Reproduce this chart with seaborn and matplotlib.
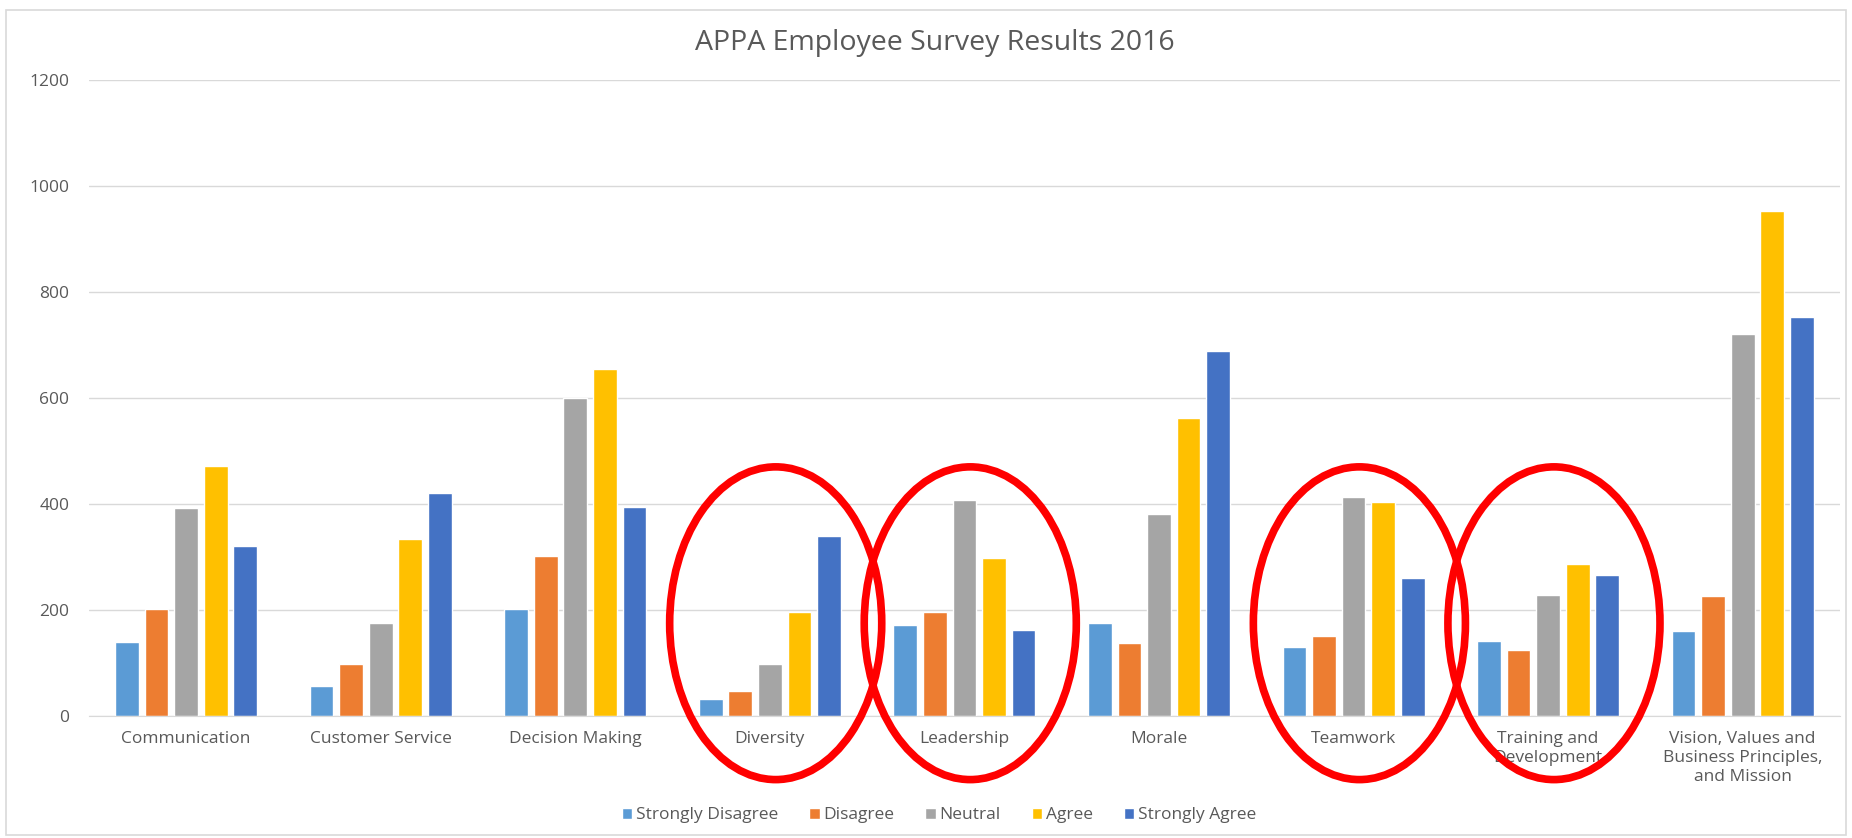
import numpy as np
import pandas as pd
import matplotlib
matplotlib.use("Agg")
import matplotlib.pyplot as plt
from matplotlib.patches import Ellipse, Rectangle
import seaborn as sns

# Survey counts
topics = ["Communication", "Customer Service", "Decision Making", "Diversity",
          "Leadership", "Morale", "Teamwork", "Training and\nDevelopment",
          "Vision, Values and\nBusiness Principles,\nand Mission"]
responses = ["Strongly Disagree", "Disagree", "Neutral", "Agree", "Strongly Agree"]

strongly_disagree = [140, 56, 201, 32, 172, 175, 131, 142, 160]
disagree = [201, 99, 302, 48, 196, 138, 150, 124, 227]
neutral = [392, 175, 600, 98, 408, 381, 413, 229, 720]
agree = [471, 333, 654, 196, 299, 563, 403, 287, 953]
strongly_agree = [321, 421, 394, 339, 162, 689, 261, 266, 752]

# topics that were circled in red
circled = ["Diversity", "Leadership", "Teamwork", "Training and\nDevelopment"]

colors = ["#5B9BD5", "#ED7D31", "#A5A5A5", "#FFC000", "#4472C4"]

series = [strongly_disagree, disagree, neutral, agree, strongly_agree]
df = pd.DataFrame({
    "topic": np.tile(topics, len(responses)),
    "response": np.repeat(responses, len(topics)),
    "count": np.concatenate(series),
})

sns.set_style("white")
plt.rcParams["font.family"] = ["Open Sans", "DejaVu Sans"]

fig = plt.figure(figsize=(18.52, 8.38), dpi=100)
ax = fig.add_axes([0.048, 0.1456, 0.9455, 0.759])

sns.barplot(data=df, x="topic", y="count", hue="response", order=topics,
            hue_order=responses, palette=colors, saturation=1,
            width=0.76, gap=0.2, ax=ax)

ax.set_ylim(0, 1200)
ax.set_xlim(-0.5, len(topics) - 0.5)
ax.set_yticks(range(0, 1201, 200))
ax.yaxis.grid(True, color="#D9D9D9", linewidth=1)
ax.set_axisbelow(True)
for s in ["top", "right", "left"]:
    ax.spines[s].set_visible(False)
ax.spines["bottom"].set_color("#D9D9D9")
ax.tick_params(axis="both", length=0, colors="#595959", labelsize=12.5)
ax.tick_params(axis="y", pad=14)
ax.tick_params(axis="x", pad=11)
for lbl in ax.get_xticklabels():
    lbl.set_linespacing(1.25)
ax.set_xlabel("")
ax.set_ylabel("")

fig.suptitle("APPA Employee Survey Results 2016", x=0.505, y=0.965,
             fontsize=20.5, color="#595959")

# red circles around highlighted groups
for t in circled:
    i = topics.index(t)
    ax.add_patch(Ellipse((i + 0.03, 175), width=1.09, height=590, fill=False,
                         edgecolor="#FF0000", linewidth=5.5, clip_on=False,
                         zorder=5))

ax.legend_.remove()
handles, labels = ax.get_legend_handles_labels()
fig.legend(handles, labels, loc="center", bbox_to_anchor=(0.507, 0.027),
           ncol=5, frameon=False, fontsize=12.5, handlelength=0.6,
           handleheight=0.6, handletextpad=0.2, columnspacing=1.8,
           labelcolor="#595959")

# light border round the chart area
fig.patches.append(Rectangle((0.003, 0.003), 0.994, 0.985,
                             transform=fig.transFigure, fill=False,
                             edgecolor="#D9D9D9", linewidth=1.2))

fig.savefig("out.png", dpi=100)
